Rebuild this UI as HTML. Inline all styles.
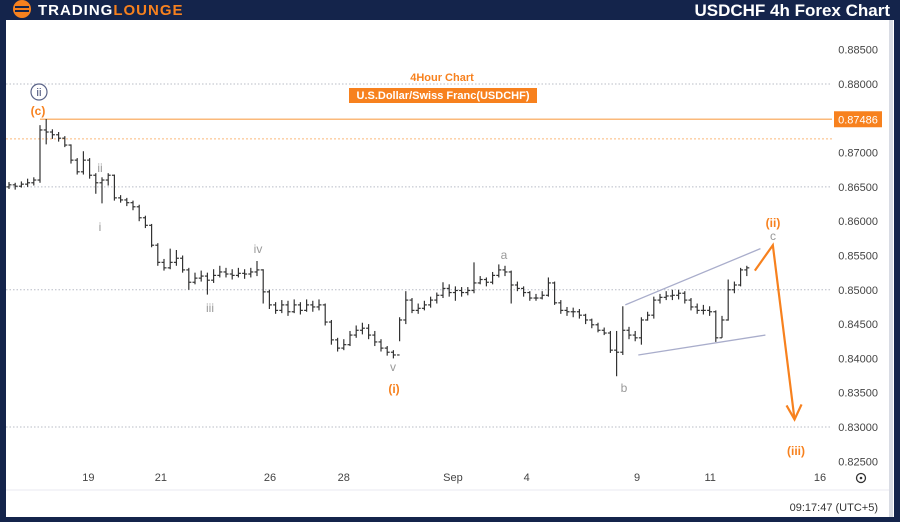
<!DOCTYPE html>
<html><head><meta charset="utf-8"><style>
body{margin:0;width:900px;height:522px;overflow:hidden;background:#14244b;font-family:"Liberation Sans",sans-serif}
svg{display:block}
</style></head><body>
<svg id="chart" width="900" height="522">
<rect x="0" y="0" width="900" height="522" fill="#14244b"/>
<rect x="6" y="20" width="888" height="497" fill="#ffffff"/>
<rect x="889" y="20" width="4" height="497" fill="#d9dce4"/>
<line x1="6" y1="490" x2="889" y2="490" stroke="#e8eaf0"/>
<g>
<circle cx="22" cy="9" r="9" fill="#f7811e"/>
<rect x="15" y="6" width="14" height="2" fill="#14244b"/><rect x="15" y="10" width="14" height="2" fill="#14244b"/>
<text x="38" y="15" font-size="15" font-weight="bold" fill="#ffffff" letter-spacing="1">TRADING<tspan fill="#f7811e">LOUNGE</tspan></text>
</g>
<text x="890" y="16" text-anchor="end" font-size="17" font-weight="bold" fill="#ffffff">USDCHF 4h Forex Chart</text>
<text x="442" y="81" text-anchor="middle" font-size="11" font-weight="bold" fill="#f7811e">4Hour Chart</text>
<rect x="349" y="88" width="188" height="15" fill="#f7811e"/>
<text x="443" y="99" text-anchor="middle" font-size="11" font-weight="bold" fill="#ffffff">U.S.Dollar/Swiss Franc(USDCHF)</text>
<g id="grid"></g><g id="bars"></g><g id="ann"></g><g id="axis"></g>
<g><circle cx="861" cy="478" r="4.5" fill="none" stroke="#333" stroke-width="1.3"/><circle cx="861" cy="478" r="1.3" fill="#333"/></g>
<text x="878" y="511" text-anchor="end" font-size="11" fill="#333">09:17:47 (UTC+5)</text>
</svg>
<script>
const closes=[.8653,.8651,.8654,.8656,.8660,.8733,.8730,.8726,.8721,.8711,.8689,.8672,.8689,.8667,.8656,.8660,.8667,.8634,.8631,.8627,.8621,.8605,.8594,.8565,.8540,.8532,.8540,.8546,.8529,.8511,.8517,.8520,.8514,.8521,.8526,.8523,.8521,.8524,.8523,.8526,.8529,.8497,.8478,.8470,.8478,.8468,.8478,.8470,.8478,.8475,.8478,.8453,.8427,.8415,.8420,.8434,.8441,.8444,.8434,.8424,.8415,.8409,.8405,.8456,.8485,.8470,.8473,.8478,.8485,.8492,.8502,.8496,.8499,.8496,.8499,.8510,.8515,.8511,.8521,.8529,.8526,.8507,.8502,.8496,.8488,.8488,.8492,.8510,.8481,.8470,.8468,.8468,.8463,.8456,.8449,.8441,.8437,.8412,.8409,.8441,.8434,.8430,.8456,.8463,.8485,.8489,.8491,.8492,.8495,.8485,.8475,.8470,.8470,.8468,.8430,.8456,.8500,.8507,.8529,.8532];
const highs=[.8657,.8656,.8658,.8662,.8664,.8740,.8749,.8734,.8730,.8724,.8712,.8692,.8702,.8692,.8670,.8664,.8670,.8668,.8638,.8634,.8630,.8624,.8608,.8596,.8568,.8545,.8560,.8558,.8550,.8532,.8525,.8528,.8525,.8530,.8535,.8532,.8530,.8532,.8530,.8532,.8542,.8530,.8500,.8482,.8485,.8484,.8486,.8482,.8486,.8484,.8486,.8480,.8456,.8430,.8428,.8440,.8448,.8452,.8450,.8440,.8428,.8418,.8412,.8460,.8498,.8488,.8480,.8484,.8490,.8496,.8511,.8508,.8505,.8504,.8504,.8540,.8520,.8518,.8526,.8537,.8535,.8528,.8512,.8505,.8498,.8494,.8498,.8518,.8512,.8485,.8475,.8474,.8472,.8465,.8458,.8452,.8445,.8440,.8440,.8476,.8446,.8440,.8460,.8468,.8490,.8494,.8498,.8500,.8500,.8498,.8488,.8480,.8478,.8476,.8470,.8462,.8515,.8512,.8532,.8535];
const lows=[.8647,.8646,.8649,.8650,.8652,.8656,.8712,.8720,.8716,.8708,.8684,.8668,.8668,.8662,.8640,.8626,.8652,.8630,.8627,.8622,.8616,.8600,.8590,.8562,.8535,.8528,.8530,.8535,.8525,.8500,.8508,.8512,.8493,.8510,.8518,.8518,.8515,.8518,.8516,.8518,.8520,.8480,.8472,.8465,.8466,.8462,.8466,.8464,.8468,.8468,.8470,.8448,.8420,.8410,.8412,.8418,.8430,.8435,.8428,.8418,.8410,.8404,.8400,.8425,.8450,.8466,.8465,.8470,.8474,.8480,.8488,.8490,.8484,.8490,.8492,.8495,.8508,.8505,.8508,.8518,.8520,.8480,.8498,.8490,.8484,.8484,.8486,.8490,.8478,.8465,.8462,.8460,.8458,.8450,.8444,.8438,.8434,.8408,.8374,.8405,.8428,.8425,.8420,.8455,.8458,.8480,.8485,.8485,.8486,.8480,.8470,.8465,.8464,.8462,.8424,.8430,.8455,.8495,.8505,.8520];
const priceTicks=[0.885,0.88,0.86,0.855,0.85,0.845,0.84,0.835,0.83,0.825,0.87,0.865];
const dateLabels=["19","21","26","28","Sep","4","9","11","16"];
const dateIdx=[12.8,24.5,42.1,54.0,71.6,83.5,101.3,113.1,130.8];
const levelPrice=0.87486;
const NS="http://www.w3.org/2000/svg";
const y=p=>84+(0.88-p)*6860;
const x=i=>9+i*6.2;
function mk(tag,attrs,parent){const e=document.createElementNS(NS,tag);for(const k in attrs)e.setAttribute(k,attrs[k]);document.getElementById(parent).appendChild(e);return e;}
[0.88,0.865,0.85,0.83].forEach(p=>{const l=mk('line',{x1:6,x2:832,y1:y(p),y2:y(p),stroke:'#b8bcc6','stroke-dasharray':'1.5,2','stroke-width':1},'grid');

});
const od=mk('line',{x1:6,x2:832,y1:y(0.872),y2:y(0.872),stroke:'#fbb97a','stroke-dasharray':'2,2'},'grid');


const lv=mk('line',{x1:40,x2:832,y1:y(levelPrice),y2:y(levelPrice),stroke:'#fbb97a','stroke-width':1.5},'grid');


const lb=mk('rect',{x:834,y:y(levelPrice)-8,width:48,height:16,fill:'#f7811e'},'axis');


const lt=mk('text',{x:858,y:y(levelPrice)+4,'text-anchor':'middle','font-size':11,fill:'#fff'},'axis');lt.textContent=levelPrice.toFixed(5);


priceTicks.forEach(p=>{const t=mk('text',{x:878,y:y(p)+4,'text-anchor':'end','font-size':11,fill:'#444'},'axis');t.textContent=p.toFixed(5);

});
dateLabels.forEach((d,k)=>{const t=mk('text',{x:x(dateIdx[k]),y:481,'text-anchor':'middle','font-size':11,fill:'#444'},'axis');t.textContent=d;

});
closes.forEach((c,i)=>{const o=i?closes[i-1]:c-0.0003;const xx=x(i);
const g=mk('g',{stroke:'#333','stroke-width':1.2},'bars');


const a=document.createElementNS(NS,'line');a.setAttribute('x1',xx);a.setAttribute('x2',xx);a.setAttribute('y1',y(highs[i]));a.setAttribute('y2',y(lows[i]));g.appendChild(a);
const b=document.createElementNS(NS,'line');b.setAttribute('x1',xx-2.5);b.setAttribute('x2',xx);b.setAttribute('y1',y(o));b.setAttribute('y2',y(o));g.appendChild(b);
const d=document.createElementNS(NS,'line');d.setAttribute('x1',xx);d.setAttribute('x2',xx+2.5);d.setAttribute('y1',y(c));d.setAttribute('y2',y(c));g.appendChild(d);});
const w1=mk('line',{x1:x(99.4),y1:y(0.8478),x2:x(121.2),y2:y(0.8560),stroke:'#a9adcb','stroke-width':1.3},'ann');


const w2=mk('line',{x1:x(101.5),y1:y(0.8405),x2:x(122),y2:y(0.8434),stroke:'#a9adcb','stroke-width':1.3},'ann');


const pr=mk('polyline',{points:`${x(120.3)},${y(0.8528)} ${x(123.2)},${y(0.8565)} ${x(126.7)},${y(0.8311)}`,fill:'none',stroke:'#f7811e','stroke-width':2.2},'ann');


const ah=mk('polyline',{points:`${x(126.7)-8},${y(0.8311)-14} ${x(126.7)},${y(0.8311)} ${x(126.7)+7},${y(0.8311)-15}`,fill:'none',stroke:'#f7811e','stroke-width':2.2},'ann');


const labels=[["(c)",38,115,'#f7811e','wave-c-label'],["ii",100,172,'#999','wave-ii-minor-label'],["i",100,231,'#999','wave-i-label'],["iii",210,312,'#999','wave-iii-label'],["iv",258,253,'#999','wave-iv-label'],["v",393,371,'#999','wave-v-label'],["(i)",394,393,'#f7811e','wave-i-orange-label'],["a",504,259,'#999','wave-a-label'],["b",624,392,'#999','wave-b-label'],["(ii)",773,227,'#f7811e','wave-ii-orange-label'],["c",773,240,'#999','wave-c-minor-label'],["(iii)",796,455,'#f7811e','wave-iii-orange-label']];
labels.forEach(l=>{const t=mk('text',{x:l[1],y:l[2],'text-anchor':'middle','font-size':12,'font-weight':l[3]==='#f7811e'?'bold':'normal',fill:l[3]},'ann');t.textContent=l[0];

});
const cc=mk('circle',{cx:39,cy:92,r:8,fill:'none',stroke:'#5a6388','stroke-width':1.2},'ann');


const ct=mk('text',{x:39,y:96,'text-anchor':'middle','font-size':11,fill:'#3a4370'},'ann');ct.textContent='ii';


</script>
</body></html>
